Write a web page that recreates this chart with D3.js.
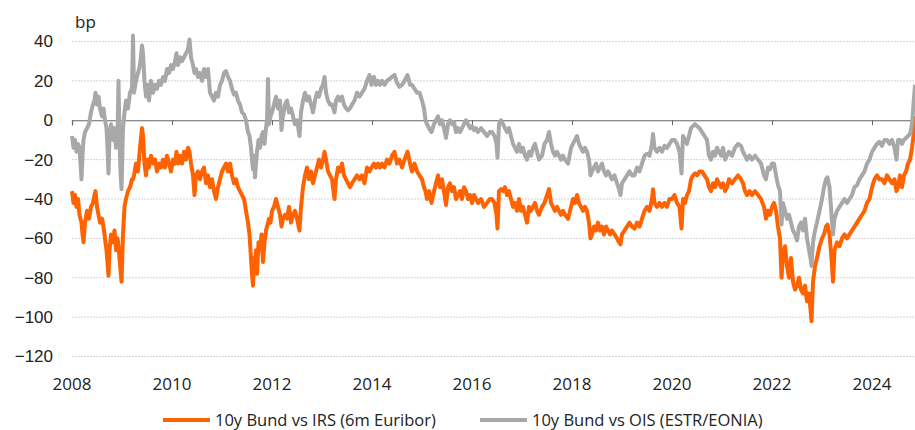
<!DOCTYPE html>
<html>
<head>
<meta charset="utf-8">
<script src="https://cdn.jsdelivr.net/npm/d3@7"></script>
<style>
  body { margin: 0; background: #fff; }
  svg { display: block; font-family: "Open Sans", sans-serif; }
  .tick-label { font-size: 17px; fill: #222; }
  .legend-label { font-size: 16.5px; fill: #222; }
</style>
</head>
<body>
<svg id="chart" width="915" height="430"></svg>
<script>
// decimal years
const years = [
  2008.00,2008.03,2008.06,2008.09,2008.12,2008.15,2008.19,2008.21,2008.23,2008.26,
  2008.30,2008.34,2008.38,2008.42,2008.45,2008.47,2008.50,2008.53,2008.56,2008.60,
  2008.63,2008.66,2008.69,2008.71,2008.73,2008.75,2008.78,2008.82,2008.85,2008.88,
  2008.91,2008.93,2008.95,2008.97,2008.99,2009.02,2009.05,2009.08,2009.12,2009.16,
  2009.20,2009.22,2009.24,2009.28,2009.32,2009.36,2009.40,2009.42,2009.45,2009.48,
  2009.51,2009.54,2009.58,2009.62,2009.66,2009.70,2009.74,2009.78,2009.82,2009.86,
  2009.90,2009.94,2009.98,2010.02,2010.06,2010.09,2010.12,2010.16,2010.20,2010.24,
  2010.28,2010.32,2010.35,2010.38,2010.42,2010.45,2010.48,2010.52,2010.56,2010.60,
  2010.64,2010.68,2010.72,2010.76,2010.80,2010.84,2010.88,2010.92,2010.96,2011.00,
  2011.04,2011.08,2011.12,2011.16,2011.20,2011.24,2011.28,2011.32,2011.36,2011.40,
  2011.44,2011.48,2011.52,2011.55,2011.58,2011.60,2011.62,2011.64,2011.66,2011.68,
  2011.70,2011.73,2011.76,2011.79,2011.82,2011.85,2011.88,2011.90,2011.92,2011.94,
  2011.97,2012.00,2012.04,2012.08,2012.12,2012.16,2012.19,2012.22,2012.26,2012.30,
  2012.34,2012.38,2012.42,2012.46,2012.50,2012.55,2012.58,2012.62,2012.66,2012.70,
  2012.74,2012.78,2012.82,2012.86,2012.90,2012.94,2012.98,2013.02,2013.05,2013.08,
  2013.12,2013.16,2013.20,2013.25,2013.28,2013.32,2013.36,2013.40,2013.44,2013.48,
  2013.52,2013.56,2013.60,2013.65,2013.70,2013.75,2013.80,2013.85,2013.90,2013.95,
  2013.99,2014.04,2014.08,2014.12,2014.16,2014.20,2014.25,2014.30,2014.35,2014.40,
  2014.45,2014.50,2014.55,2014.60,2014.65,2014.71,2014.76,2014.80,2014.85,2014.90,
  2014.95,2015.00,2015.04,2015.07,2015.10,2015.14,2015.19,2015.24,2015.28,2015.32,
  2015.36,2015.40,2015.44,2015.48,2015.52,2015.56,2015.60,2015.64,2015.68,2015.72,
  2015.76,2015.80,2015.84,2015.88,2015.92,2015.96,2016.00,2016.04,2016.08,2016.12,
  2016.18,2016.24,2016.30,2016.36,2016.40,2016.45,2016.49,2016.51,2016.54,2016.58,
  2016.62,2016.66,2016.70,2016.74,2016.78,2016.82,2016.86,2016.90,2016.94,2016.98,
  2017.02,2017.06,2017.10,2017.14,2017.18,2017.22,2017.26,2017.30,2017.34,2017.40,
  2017.45,2017.50,2017.54,2017.58,2017.62,2017.66,2017.70,2017.74,2017.78,2017.82,
  2017.86,2017.92,2017.98,2018.02,2018.06,2018.10,2018.14,2018.18,2018.22,2018.26,
  2018.30,2018.34,2018.37,2018.40,2018.44,2018.48,2018.52,2018.56,2018.60,2018.64,
  2018.68,2018.72,2018.76,2018.80,2018.85,2018.90,2018.94,2018.97,2019.00,2019.05,
  2019.10,2019.15,2019.20,2019.25,2019.30,2019.35,2019.40,2019.45,2019.50,2019.55,
  2019.60,2019.62,2019.65,2019.70,2019.75,2019.80,2019.85,2019.90,2019.95,2020.00,
  2020.05,2020.10,2020.15,2020.19,2020.22,2020.26,2020.30,2020.34,2020.38,2020.42,
  2020.46,2020.50,2020.55,2020.60,2020.65,2020.70,2020.74,2020.78,2020.82,2020.86,
  2020.90,2020.94,2020.98,2021.02,2021.06,2021.10,2021.14,2021.20,2021.26,2021.32,
  2021.38,2021.42,2021.46,2021.50,2021.55,2021.60,2021.66,2021.72,2021.78,2021.84,
  2021.88,2021.92,2021.96,2022.00,2022.04,2022.08,2022.12,2022.16,2022.19,2022.22,
  2022.26,2022.30,2022.34,2022.38,2022.42,2022.46,2022.50,2022.54,2022.58,2022.62,
  2022.66,2022.70,2022.74,2022.77,2022.79,2022.82,2022.86,2022.90,2022.95,2023.00,
  2023.04,2023.08,2023.11,2023.15,2023.19,2023.22,2023.25,2023.30,2023.35,2023.40,
  2023.45,2023.50,2023.55,2023.60,2023.65,2023.70,2023.75,2023.80,2023.85,2023.90,
  2023.95,2024.00,2024.05,2024.10,2024.15,2024.20,2024.25,2024.30,2024.35,2024.40,
  2024.45,2024.49,2024.52,2024.56,2024.60,2024.64,2024.68,2024.72,2024.76,2024.80,
  2024.83,2024.86
];

// 10y Bund vs IRS (6m Euribor), bp
const irsSpread = [
  -36,-42,-38,-44,-40,-48,-52,-58,-62,-52,
  -46,-50,-44,-42,-38,-36,-44,-48,-52,-50,
  -54,-60,-66,-72,-79,-66,-58,-62,-56,-66,
  -60,-64,-70,-76,-82,-58,-44,-40,-36,-34,
  -30,-30,-28,-22,-26,-14,-4,-8,-22,-28,
  -20,-24,-18,-22,-20,-26,-22,-24,-20,-24,
  -18,-22,-26,-20,-22,-16,-22,-18,-22,-16,
  -20,-14,-16,-22,-28,-38,-28,-26,-30,-26,
  -24,-32,-28,-34,-30,-36,-40,-34,-30,-26,
  -24,-22,-26,-22,-28,-32,-30,-34,-36,-38,
  -40,-46,-52,-58,-70,-78,-84,-70,-74,-66,
  -78,-62,-66,-58,-72,-62,-56,-54,-52,-50,
  -52,-46,-44,-40,-44,-48,-54,-50,-48,-50,
  -44,-52,-48,-46,-50,-56,-44,-34,-28,-24,
  -30,-26,-32,-28,-24,-20,-24,-20,-16,-20,
  -26,-28,-30,-40,-30,-24,-26,-22,-28,-30,
  -32,-34,-32,-30,-28,-30,-28,-32,-24,-26,
  -24,-22,-24,-22,-24,-22,-24,-20,-22,-18,
  -16,-22,-20,-24,-20,-16,-22,-26,-22,-26,
  -28,-30,-34,-36,-40,-36,-42,-36,-32,-28,
  -34,-30,-36,-43,-34,-32,-36,-34,-40,-38,
  -36,-40,-34,-36,-40,-38,-42,-38,-40,-42,
  -40,-44,-42,-40,-40,-42,-48,-55,-36,-35,
  -36,-34,-38,-36,-40,-44,-42,-46,-40,-46,
  -44,-48,-52,-44,-46,-44,-42,-46,-48,-44,
  -42,-38,-35,-42,-44,-46,-44,-46,-48,-46,
  -48,-50,-44,-40,-42,-38,-42,-44,-46,-44,
  -46,-52,-60,-58,-54,-56,-52,-56,-54,-58,
  -54,-56,-58,-56,-58,-60,-62,-63,-58,-56,
  -54,-52,-54,-55,-52,-54,-50,-46,-44,-46,
  -40,-35,-42,-44,-42,-44,-42,-44,-40,-40,
  -38,-42,-44,-55,-40,-42,-38,-36,-30,-28,
  -27,-28,-26,-26,-28,-30,-34,-36,-32,-34,
  -30,-32,-34,-32,-36,-34,-30,-32,-30,-28,
  -30,-32,-36,-38,-36,-38,-36,-38,-40,-44,
  -50,-46,-48,-44,-42,-46,-54,-60,-80,-68,
  -64,-74,-80,-70,-82,-86,-84,-80,-86,-88,
  -84,-92,-88,-96,-102,-82,-74,-70,-64,-60,
  -58,-54,-53,-58,-70,-82,-66,-62,-64,-60,
  -58,-60,-58,-56,-54,-52,-50,-48,-46,-42,
  -40,-34,-30,-28,-30,-30,-32,-28,-30,-32,
  -30,-36,-34,-28,-34,-28,-26,-22,-20,-14,
  -8,2
];

// 10y Bund vs OIS (ESTR/EONIA), bp
const oisSpread = [
  -8,-14,-10,-16,-12,-14,-30,-18,-10,-6,
  -4,-2,4,8,10,14,8,12,6,2,
  6,0,-4,-14,-27,-8,-2,-10,-4,-14,
  -8,20,-10,-26,-35,-4,4,10,6,14,
  16,43,14,20,24,28,38,34,20,12,
  18,10,20,14,18,16,20,18,22,20,
  26,24,28,26,30,34,28,32,30,32,
  34,36,41,32,28,24,26,22,24,20,
  26,22,26,14,12,10,14,12,18,20,
  24,25,22,20,16,13,14,10,8,4,
  3,0,-6,-8,-14,-20,-25,-18,-29,-22,
  -16,-10,-14,-8,-6,-12,-4,0,21,-2,
  2,4,8,12,6,10,-5,2,8,10,
  4,6,2,-2,0,-8,4,10,14,10,
  12,8,4,10,14,12,16,18,22,14,
  10,8,8,4,10,12,10,12,8,6,
  5,6,8,10,14,12,14,16,20,23,
  18,22,18,20,18,20,18,20,21,22,
  23,19,17,18,20,23,18,18,16,14,
  14,10,6,0,-2,-4,-6,-2,0,2,
  -2,0,-4,-9,-2,0,-2,-1,-6,-4,
  -6,-4,-2,0,-2,-4,-3,-5,-4,-6,
  -4,-6,-8,-6,-6,-8,-12,-19,-2,0,
  -2,-4,-6,-4,-8,-12,-14,-16,-12,-16,
  -14,-18,-20,-16,-18,-14,-12,-16,-20,-18,
  -12,-10,-6,-12,-16,-18,-16,-18,-20,-18,
  -20,-22,-14,-12,-10,-8,-12,-14,-16,-14,
  -16,-20,-28,-26,-24,-22,-26,-24,-22,-26,
  -28,-26,-28,-30,-28,-32,-35,-38,-32,-30,
  -28,-26,-28,-28,-24,-26,-22,-18,-17,-18,
  -12,-7,-14,-16,-14,-16,-13,-14,-12,-10,
  -10,-12,-16,-27,-8,-10,-12,-8,-4,-3,
  -2,-3,-4,-6,-8,-10,-18,-20,-16,-18,
  -14,-16,-18,-14,-20,-18,-16,-18,-14,-12,
  -13,-16,-18,-20,-18,-20,-18,-20,-22,-28,
  -30,-24,-25,-22,-22,-28,-33,-36,-53,-42,
  -46,-50,-48,-52,-56,-58,-61,-54,-52,-56,
  -50,-60,-66,-70,-74,-62,-56,-52,-46,-40,
  -34,-30,-29,-34,-48,-58,-50,-46,-44,-42,
  -40,-42,-40,-38,-34,-33,-30,-28,-26,-22,
  -20,-16,-14,-12,-11,-13,-10,-10,-12,-10,
  -14,-20,-10,-10,-12,-10,-9,-8,-7,-2,
  8,18
];

const yTicks = [40, 20, 0, -20, -40, -60, -80, -100, -120];
const xTicks = [2008, 2010, 2012, 2014, 2016, 2018, 2020, 2022, 2024];
const seriesNames = ["10y Bund vs IRS (6m Euribor)", "10y Bund vs OIS (ESTR/EONIA)"];
const seriesColors = ["#ff6200", "#a8a8a8"];

const svg = d3.select("#chart");
const plotLeft = 72, plotRight = 915, plotTop = 41.5, plotBottom = 356.5;

let xScale = d3.scaleLinear().domain([2008, 2024.86]).range([plotLeft, plotRight]);
let yScale = d3.scaleLinear().domain([-120, 40]).range([plotBottom, plotTop]);

// gridlines
svg.append("g")
  .selectAll("line")
  .data(yTicks.filter(d => d !== 0))
  .enter().append("line")
  .attr("x1", plotLeft).attr("x2", plotRight)
  .attr("y1", d => yScale(d)).attr("y2", d => yScale(d))
  .attr("stroke", "#d4d4d4")
  .attr("stroke-width", 1)
  .attr("stroke-dasharray", "2,1");

// y labels
let y_axis = d3.axisLeft(yScale).tickValues(yTicks).tickSize(0).tickPadding(0);
svg.append("g")
  .attr("transform", `translate(${53},0)`)
  .call(y_axis)
  .call(g => g.select(".domain").remove())
  .call(g => g.selectAll("text").attr("class", "tick-label").attr("font-size", null).attr("font-family", null).attr("fill", null));

// zero line with year ticks
let x_axis = d3.axisBottom(xScale).tickValues(xTicks).tickSize(5).tickFormat("");
svg.append("g")
  .attr("transform", `translate(0,${yScale(0)})`)
  .call(x_axis)
  .call(g => g.select(".domain").attr("stroke", "#666").attr("stroke-width", 1.2))
  .call(g => g.selectAll(".tick line").attr("stroke", "#666"));

// year labels
svg.append("g")
  .selectAll("text")
  .data(xTicks)
  .enter().append("text")
  .attr("class", "tick-label")
  .attr("x", d => xScale(d))
  .attr("y", 390)
  .attr("text-anchor", "middle")
  .text(d => d);

svg.append("text")
  .attr("class", "tick-label")
  .attr("x", 75).attr("y", 28)
  .text("bp");

// lines
let line = d3.line()
  .x((d, i) => xScale(years[i]))
  .y(d => yScale(d));

[irsSpread, oisSpread].forEach((s, k) => {
  svg.append("path")
    .datum(s)
    .attr("d", line)
    .attr("fill", "none")
    .attr("stroke", seriesColors[k])
    .attr("stroke-width", 4)
    .attr("stroke-linejoin", "round");
});

// legend
const legendX = [163, 480];
const legend = svg.append("g")
  .selectAll("g")
  .data(seriesNames)
  .enter().append("g")
  .attr("transform", (d, i) => `translate(${legendX[i]},${420})`);
legend.append("line")
  .attr("x1", 0).attr("x2", 47)
  .attr("stroke", (d, i) => seriesColors[i])
  .attr("stroke-width", 4);
legend.append("text")
  .attr("class", "legend-label")
  .attr("x", 52).attr("y", 6)
  .text(d => d);
</script>
</body>
</html>
